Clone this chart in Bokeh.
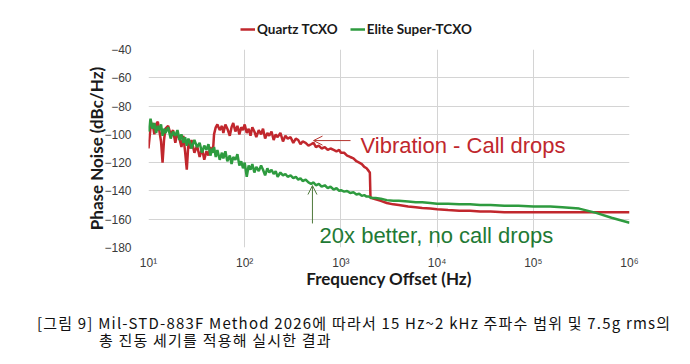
from bokeh.plotting import figure
from bokeh.models import (FixedTicker, Label, Arrow, OpenHead, Legend, LegendItem, Range1d, Div)
from bokeh.layouts import column
from bokeh.embed import file_html
from bokeh.resources import INLINE

# ---------------- data ----------------
freq_hz = [
    10, 10.5, 11, 11.5, 12, 12.5, 13, 13.5, 14, 14.5,
    15, 16, 17, 18, 19, 20, 21, 22, 23, 24,
    25, 26, 27, 28, 30, 32, 34, 36, 38, 40,
    42, 44, 46, 47, 48, 50, 52, 55, 58, 60,
    63, 66, 70, 73, 76, 80, 84, 88, 92, 96,
    100, 105, 110, 115, 120, 126, 132, 140, 148, 155,
    163, 172, 180, 190, 200, 210, 220, 235, 250, 265,
    280, 300, 320, 340, 360, 380, 400, 430, 460, 490,
    520, 550, 590, 630, 680, 730, 780, 840, 900, 960,
    1000, 1080, 1160, 1250, 1350, 1450, 1550, 1650, 1750, 1850,
    1950, 2000, 2030, 2100, 2300, 2600, 3000, 3500, 4000, 5000,
    6000, 7000, 8500, 10000, 13000, 17000, 22000, 28000, 36000, 50000,
    70000, 100000, 150000, 200000, 300000, 450000, 650000, 1000000,
]

pn_quartz = [
    -110, -95, -92, -100, -93, -91, -98, -105, -120, -104,
    -96, -94, -100, -97, -106, -99, -103, -109, -101, -112,
    -125, -106, -110, -104, -113, -108, -116, -110, -118, -112,
    -115, -109, -113, -110, -100, -95, -93, -97, -94, -99,
    -93, -96, -101, -95, -92, -98, -94, -100, -95, -97,
    -93, -99, -96, -101, -95, -98, -102, -97, -100, -96,
    -103, -99, -101, -98, -104, -100, -102, -99, -105, -101,
    -103, -102, -106, -103, -104, -107, -105, -106, -108, -107,
    -106, -109, -108, -110, -109, -111, -110, -111, -112, -111,
    -113, -113, -115, -116, -117, -119, -120, -121, -123, -124,
    -126, -127, -145, -145, -146, -147, -148.5, -149.5, -150, -151,
    -151.5, -152, -152.5, -153, -153.5, -154, -154, -154.5, -154.5, -155,
    -155, -155, -155, -155, -155, -155, -155, -155,
]

pn_elite = [
    -98, -89, -96, -92, -99, -94, -97, -93, -101, -96,
    -99, -95, -103, -98, -101, -97, -104, -100, -106, -102,
    -108, -103, -106, -110, -104, -109, -106, -113, -108, -111,
    -107, -115, -110, -113, -109, -116, -111, -118, -113, -117,
    -112, -119, -115, -121, -116, -118, -114, -122, -119, -124,
    -120, -130, -122, -125, -121, -127, -123, -126, -122, -125,
    -129, -124, -127, -125, -128, -126, -130, -127, -129, -128,
    -130, -129, -131, -130, -132, -131, -133, -132, -134, -135,
    -134, -136, -135, -137, -136, -138, -137, -139, -138, -140,
    -139.5, -140.5, -140, -141.5, -141, -142.5, -142, -143.5, -143, -144,
    -144, -144.5, -144.5, -145, -145, -145.5, -146.5, -147, -147, -147.5,
    -148, -148, -148.5, -149, -149, -149.5, -149.5, -150, -150, -150.5,
    -150.5, -151, -151, -151.5, -152.5, -155.5, -159, -162.5,
]

series_names = ["Quartz TCXO", "Elite Super-TCXO"]
x_ticks = [10, 100, 1000, 10000, 100000, 1000000]
x_tick_labels = ["10¹", "10²", "10³", "10⁴", "10⁵", "10⁶"]
y_ticks = [-180, -160, -140, -120, -100, -80, -60, -40]
caption_lines = [
    "[그림 9] Mil-STD-883F Method 2026에 따라서 15 Hz~2 kHz 주파수 범위 및 7.5g rms의",
    "총 진동 세기를 적용해 실시한 결과",
]

assert len(freq_hz) == len(pn_quartz) == len(pn_elite)

RED = "#c1272d"
GREEN = "#2e9b3f"
GRID = "#d4d4d4"

# ---------------- legend strip (own canvas so it is not clipped) ----------------
lf = figure(width=688, height=40, x_range=Range1d(0, 1), y_range=Range1d(0, 1),
            x_axis_location=None, y_axis_location=None,
            output_backend="svg", toolbar_location=None, min_border=0)
lf.outline_line_color = None
lf.grid.visible = False
# same series, outside this strip's ranges: only used for the legend swatches
lq = lf.line(freq_hz, pn_quartz, line_color=RED, line_width=2.5)
le = lf.line(freq_hz, pn_elite, line_color=GREEN, line_width=2.5)
legend = Legend(items=[LegendItem(label=series_names[0], renderers=[lq]),
                       LegendItem(label=series_names[1], renderers=[le])],
                orientation="horizontal", location=(92, 3),
                border_line_color=None, background_fill_alpha=0,
                label_text_font="Lato", label_text_font_style="bold",
                label_text_font_size="13.5px", label_text_color="#1a1a1a",
                glyph_width=15, glyph_height=14, label_standoff=2,
                spacing=12, padding=0, margin=0)
lf.add_layout(legend)

# ---------------- main chart ----------------
p = figure(width=688, height=265, x_axis_type="log",
           x_range=Range1d(10, 1e6), y_range=Range1d(-180, -40),
           output_backend="svg", toolbar_location=None,
           min_border_left=148, min_border_right=59,
           min_border_top=9, min_border_bottom=58)
p.outline_line_color = None
p.background_fill_color = "white"
p.border_fill_color = "white"

r_q = p.line(freq_hz, pn_quartz, line_color=RED, line_width=2.5)
r_e = p.line(freq_hz, pn_elite, line_color=GREEN, line_width=2.5)

p.xaxis.ticker = FixedTicker(ticks=x_ticks)
p.xaxis.major_label_overrides = {t: l for t, l in zip(x_ticks, x_tick_labels)}
p.yaxis.ticker = FixedTicker(ticks=y_ticks)
for ax in (p.xaxis, p.yaxis):
    ax.axis_line_color = None
    ax.major_tick_line_color = None
    ax.minor_tick_line_color = None
    ax.major_label_text_font = "Liberation Sans"
    ax.major_label_text_font_size = "12px"
    ax.major_label_text_color = "#3a3a3a"
    ax.axis_label_text_font = "Lato"
    ax.axis_label_text_font_style = "bold"
    ax.axis_label_text_font_size = "17px"
    ax.axis_label_text_color = "#1a1a1a"
p.xaxis.axis_label = "Frequency Offset (Hz)"
p.yaxis.axis_label = "Phase Noise (dBc/Hz)"
p.xaxis.major_label_standoff = 2
p.xaxis.axis_label_standoff = -5
p.yaxis.major_label_standoff = 11
p.yaxis.axis_label_standoff = -6

p.xgrid.grid_line_color = GRID
p.ygrid.grid_line_color = GRID

# annotations
p.add_layout(Arrow(end=OpenHead(size=9, line_color="#b5332e", line_width=1),
                   x_start=1259, y_start=-104.4, x_end=519, y_end=-104.4,
                   line_color="#b5332e", line_width=1))
p.add_layout(Label(x=1600, y=-107.9, text="Vibration - Call drops",
                   text_font="Liberation Sans", text_font_size="22px",
                   text_color="#c0272d", text_baseline="alphabetic"))
p.add_layout(Arrow(end=OpenHead(size=9, line_color="#4f7a3c", line_width=1),
                   x_start=506, y_start=-163, x_end=506, y_end=-136.2,
                   line_color="#4f7a3c", line_width=1))
p.add_layout(Label(x=600, y=-171.5, text="20x better, no call drops",
                   text_font="Liberation Sans", text_font_size="22px",
                   text_color="#1f7a35", text_baseline="alphabetic"))

# ---------------- caption ----------------
caption_html = (
    '<div style="font-family:\'Noto Sans CJK KR\';font-size:15px;line-height:17px;'
    'letter-spacing:1.2px;color:#111;padding-top:9px;white-space:nowrap;">'
    f'<div style="padding-left:37px;">{caption_lines[0]}</div>'
    f'<div style="padding-left:99px;">{caption_lines[1]}</div>'
    '</div>'
)
caption = Div(text=caption_html, width=688, height=55, margin=(0, 0, 0, 0))

layout = column(lf, p, caption, spacing=0)
open("out.html", "w").write(file_html(layout, INLINE))
